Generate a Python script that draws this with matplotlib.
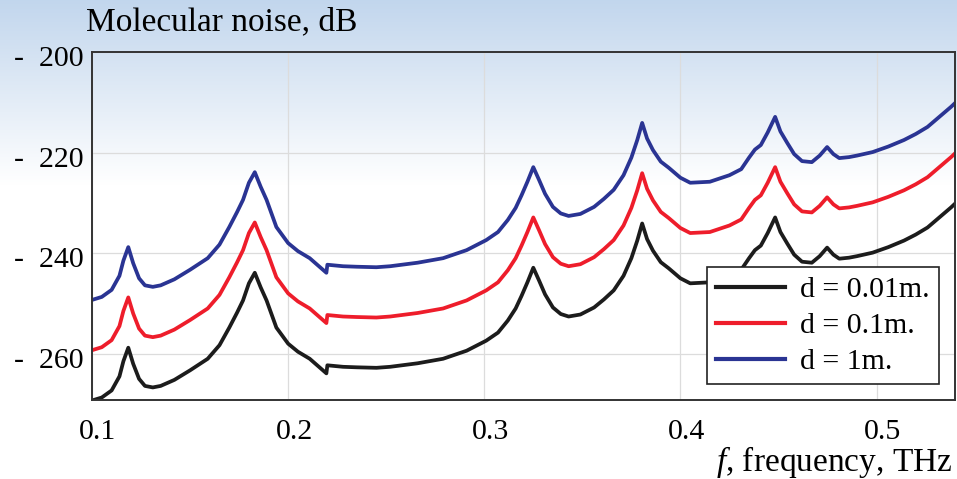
import matplotlib
matplotlib.use('Agg')
import matplotlib.pyplot as plt
import matplotlib.transforms as mtransforms
import numpy as np

plt.rcParams['font.family'] = ['Liberation Serif', 'DejaVu Serif']
plt.rcParams['mathtext.fontset'] = 'custom'
plt.rcParams['mathtext.it'] = 'Liberation Serif:italic'
plt.rcParams['mathtext.rm'] = 'Liberation Serif'

# frequency grid, THz
freq = [0.100, 0.105, 0.110, 0.114, 0.116, 0.1185, 0.121, 0.124, 0.127, 0.131,
        0.135, 0.142, 0.150, 0.159, 0.165, 0.170, 0.174, 0.177, 0.180, 0.183,
        0.186, 0.189, 0.194, 0.200, 0.205, 0.211, 0.2195, 0.2200, 0.228, 0.235,
        0.245, 0.252, 0.266, 0.279, 0.291, 0.301, 0.307, 0.312, 0.316, 0.319,
        0.322, 0.325, 0.328, 0.331, 0.335, 0.339, 0.343, 0.349, 0.356, 0.361,
        0.366, 0.371, 0.375, 0.378, 0.3805, 0.383, 0.386, 0.390, 0.394, 0.400,
        0.405, 0.415, 0.425, 0.431, 0.435, 0.438, 0.441, 0.4445, 0.4483, 0.451,
        0.4545, 0.458, 0.462, 0.467, 0.471, 0.4748, 0.478, 0.481, 0.486, 0.490,
        0.498, 0.506, 0.514, 0.520, 0.526, 0.532, 0.538, 0.541]

# molecular noise, dB
noise_001 = [-269.3, -268.7, -267.3, -264.5, -261.5, -258.8, -262.0, -265.0, -266.4, -266.7,
             -266.4, -265.2, -263.3, -261.0, -258.3, -254.8, -251.8, -249.4, -246.0, -243.9,
             -246.8, -249.4, -254.8, -258.0, -259.6, -261.0, -263.9, -262.3, -262.6, -262.7,
             -262.8, -262.6, -261.9, -261.0, -259.4, -257.4, -255.8, -253.4, -251.0, -248.5,
             -245.8, -242.9, -245.5, -248.2, -250.8, -252.1, -252.6, -252.2, -250.8, -249.2,
             -247.4, -244.5, -241.0, -237.5, -234.1, -237.2, -239.5, -241.8, -243.0, -245.0,
             -246.0, -245.8, -244.5, -243.3, -241.0, -239.4, -238.5, -236.0, -232.9, -235.8,
             -238.1, -240.3, -241.7, -241.9, -240.6, -238.9, -240.3, -241.1, -240.9, -240.6,
             -239.9, -238.8, -237.5, -236.3, -234.9, -232.9, -230.9, -229.8]

noise_01 = [-259.3, -258.7, -257.3, -254.5, -251.5, -248.8, -252.0, -255.0, -256.4, -256.7,
            -256.4, -255.2, -253.3, -251.0, -248.3, -244.8, -241.8, -239.4, -236.0, -233.9,
            -236.8, -239.4, -244.8, -248.0, -249.6, -251.0, -253.9, -252.3, -252.6, -252.7,
            -252.8, -252.6, -251.9, -251.0, -249.4, -247.4, -245.8, -243.4, -241.0, -238.5,
            -235.8, -232.9, -235.5, -238.2, -240.8, -242.1, -242.6, -242.2, -240.8, -239.2,
            -237.4, -234.5, -231.0, -227.5, -224.1, -227.2, -229.5, -231.8, -233.0, -235.0,
            -236.0, -235.8, -234.5, -233.3, -231.0, -229.4, -228.5, -226.0, -222.9, -225.8,
            -228.1, -230.3, -231.7, -231.9, -230.6, -228.9, -230.3, -231.1, -230.9, -230.6,
            -229.9, -228.8, -227.5, -226.3, -224.9, -222.9, -220.9, -219.8]

noise_1 = [-249.3, -248.7, -247.3, -244.5, -241.5, -238.8, -242.0, -245.0, -246.4, -246.7,
           -246.4, -245.2, -243.3, -241.0, -238.3, -234.8, -231.8, -229.4, -226.0, -223.9,
           -226.8, -229.4, -234.8, -238.0, -239.6, -241.0, -243.9, -242.3, -242.6, -242.7,
           -242.8, -242.6, -241.9, -241.0, -239.4, -237.4, -235.8, -233.4, -231.0, -228.5,
           -225.8, -222.9, -225.5, -228.2, -230.8, -232.1, -232.6, -232.2, -230.8, -229.2,
           -227.4, -224.5, -221.0, -217.5, -214.1, -217.2, -219.5, -221.8, -223.0, -225.0,
           -226.0, -225.8, -224.5, -223.3, -221.0, -219.4, -218.5, -216.0, -212.9, -215.8,
           -218.1, -220.3, -221.7, -221.9, -220.6, -218.9, -220.3, -221.1, -220.9, -220.6,
           -219.9, -218.8, -217.5, -216.3, -214.9, -212.9, -210.9, -209.8]

xticks = [0.1, 0.2, 0.3, 0.4, 0.5]
xtick_labels = ['0.1', '0.2', '0.3', '0.4', '0.5']
yticks = [-200, -220, -240, -260]
ytick_labels = ['-  200', '-  220', '-  240', '-  260']

fig = plt.figure(figsize=(9.57, 4.79), dpi=100)

# light blue wash across the top of the figure
bg = fig.add_axes([0, 0, 1, 1], zorder=-10)
rows = np.linspace(0, 1, 479)
fade = np.clip(rows / 0.385, 0, 1)[:, None]
top_col = np.array([0.76, 0.84, 0.93])
grad = top_col + (1 - top_col) * fade
grad = np.repeat(grad[:, None, :], 2, axis=1)
bg.imshow(grad, aspect='auto', extent=[0, 1, 0, 1], origin='upper')
bg.axis('off')

ax = fig.add_axes([92 / 957, 79 / 479, 863 / 957, 348 / 479])
ax.set_facecolor('none')

ax.plot(freq, noise_001, color='#1c1c1c', lw=2.7, label='d = 0.01m.')
ax.plot(freq, noise_01, color='#ee1d2b', lw=2.7, label='d = 0.1m.')
ax.plot(freq, noise_1, color='#2a3493', lw=2.7, label='d = 1m.')

ax.set_xlim(0.1, 0.54)
ax.set_ylim(-269.2, -200)
ax.set_xticks(xticks)
ax.set_xticklabels(xtick_labels)
ax.set_yticks(yticks)
ax.set_yticklabels(ytick_labels)
ax.tick_params(length=0, labelsize=21.5)
ax.tick_params(axis='x', pad=14)
ax.tick_params(axis='y', pad=6)
ax.grid(True, color='#dcdcdc', lw=0.9)
for s in ax.spines.values():
    s.set_color('#333333')
    s.set_linewidth(1.4)

shift = mtransforms.ScaledTranslation(6 / 100, 0, fig.dpi_scale_trans)
for lab in ax.get_xticklabels():
    lab.set_transform(lab.get_transform() + shift)
vshift = mtransforms.ScaledTranslation(0, -4 / 100, fig.dpi_scale_trans)
for lab in ax.get_yticklabels():
    lab.set_transform(lab.get_transform() + vshift)

fig.text(86 / 957, 1 - 22 / 479, 'Molecular noise, dB', fontsize=24,
         ha='left', va='center')
fig.text(952 / 957, 1 - 462 / 479, '$f$, frequency, THz', fontsize=24,
         ha='right', va='center')

leg = ax.legend(loc='lower right', bbox_to_anchor=(0.981, 0.046), borderaxespad=0,
                fontsize=21.5, frameon=True, fancybox=False, framealpha=1,
                edgecolor='#222222', handlelength=2.3, labelspacing=0.3,
                borderpad=0.3, handletextpad=0.5)
leg.get_frame().set_linewidth(1.2)
for line in leg.get_lines():
    line.set_linewidth(3.0)

fig.savefig('out.png', dpi=100)
